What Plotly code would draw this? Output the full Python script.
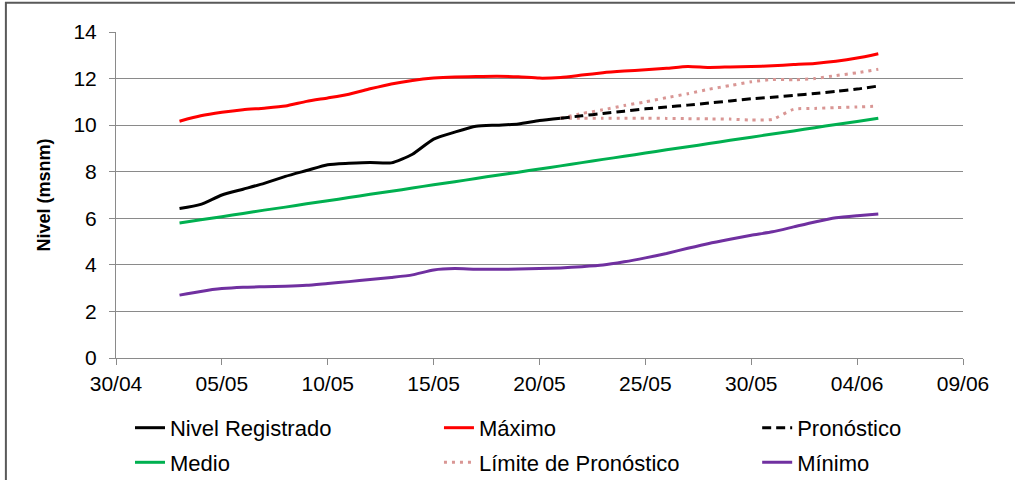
import plotly.graph_objects as go
import pandas as pd

# fechas (03/05 .. 05/06) y pronostico (21/05 .. 05/06)
fechas = pd.date_range("2016-05-03", "2016-06-05", freq="D")
fechas_obs = pd.date_range("2016-05-03", "2016-05-21", freq="D")
fechas_pron = pd.date_range("2016-05-21", "2016-06-05", freq="D")

nivel_registrado = [6.42, 6.6, 7.0, 7.25, 7.5, 7.8, 8.05, 8.3, 8.36, 8.4, 8.38, 8.75,
                    9.4, 9.7, 9.95, 10.0, 10.05, 10.2, 10.3]

maximo = [10.17, 10.4, 10.55, 10.66, 10.73, 10.82, 11.02, 11.17, 11.33, 11.56, 11.77,
          11.92, 12.02, 12.07, 12.09, 12.1, 12.08, 12.02, 12.05, 12.15, 12.25, 12.32,
          12.38, 12.44, 12.52, 12.48, 12.5, 12.52, 12.55, 12.6, 12.65, 12.74, 12.88, 13.07]

medio = [5.8, 5.94, 6.07, 6.21, 6.35, 6.48, 6.62, 6.75, 6.89, 7.03, 7.16, 7.3, 7.44,
         7.57, 7.71, 7.85, 7.98, 8.12, 8.25, 8.39, 8.53, 8.66, 8.8, 8.94, 9.07, 9.21,
         9.35, 9.48, 9.62, 9.75, 9.89, 10.03, 10.16, 10.3]

minimo = [2.7, 2.86, 2.98, 3.04, 3.06, 3.08, 3.12, 3.2, 3.28, 3.37, 3.46, 3.57, 3.78,
          3.84, 3.81, 3.81, 3.82, 3.84, 3.87, 3.92, 3.99, 4.13, 4.3, 4.49, 4.71, 4.92,
          5.1, 5.27, 5.42, 5.63, 5.84, 6.02, 6.11, 6.18]

pronostico = [10.3, 10.4, 10.5, 10.6, 10.7, 10.78, 10.86, 10.95, 11.04, 11.13, 11.2,
              11.28, 11.36, 11.45, 11.55, 11.68]

limite_sup = [10.3, 10.5, 10.66, 10.84, 11.0, 11.18, 11.35, 11.54, 11.7, 11.86, 11.96,
              11.95, 12.0, 12.13, 12.25, 12.4]

limite_inf = [10.3, 10.3, 10.3, 10.3, 10.3, 10.29, 10.28, 10.27, 10.26, 10.22, 10.25,
              10.68, 10.72, 10.75, 10.78, 10.82]

FONT = "Liberation Sans, Arial, sans-serif"
GRID = "#8a8a8a"

fig = go.Figure()

def add_line(x, y, name, color, dash="solid", legend="legend", show=True, group=None):
    fig.add_trace(go.Scatter(
        x=x, y=y, name=name, mode="lines",
        line=dict(color=color, width=3, dash=dash, shape="spline", smoothing=0.6),
        legend=legend, showlegend=show, legendgroup=group or name,
    ))

# columna 1
add_line(fechas_obs, nivel_registrado, "Nivel Registrado", "#000000", legend="legend")
add_line(fechas, medio, "Medio", "#00B050", legend="legend")
# columna 2
add_line(fechas, maximo, "Máximo", "#FF0000", legend="legend2")
add_line(fechas_pron, limite_sup, "Límite de Pronóstico", "#D99694", dash="3px,5px",
         legend="legend2", group="lim")
add_line(fechas_pron, limite_inf, "Límite inferior", "#D99694", dash="3px,5px",
         legend="legend2", show=False, group="lim")
# columna 3
add_line(fechas_pron, pronostico, "Pronóstico", "#000000", dash="9px,5px", legend="legend3")
add_line(fechas, minimo, "Mínimo", "#7030A0", legend="legend3")

leg = dict(orientation="v", yanchor="top", y=-0.15, xanchor="left",
           font=dict(family=FONT, size=22, color="#000000"),
           bgcolor="rgba(0,0,0,0)", tracegroupgap=3, traceorder="grouped")

fig.update_layout(
    width=1015, height=480,
    margin=dict(l=116, r=52, t=32, b=122, autoexpand=False),
    paper_bgcolor="white", plot_bgcolor="white",
    font=dict(family=FONT, size=21, color="#000000"),
    legend=dict(leg, x=0.0165),
    legend2=dict(leg, x=0.3813),
    legend3=dict(leg, x=0.757),
    xaxis=dict(
        type="date", range=["2016-04-30", "2016-06-09"],
        tick0="2016-04-30", dtick=5 * 86400000, tickformat="%d/%m",
        showgrid=False, showline=True, linecolor=GRID, linewidth=1,
        ticks="outside", ticklen=6, tickcolor=GRID, automargin=False,
        tickfont=dict(size=21), ticklabelstandoff=1,
    ),
    yaxis=dict(
        range=[0, 14], dtick=2, showgrid=True, gridcolor=GRID, gridwidth=1,
        zeroline=False, showline=True, linecolor=GRID, linewidth=1,
        ticks="outside", ticklen=6, tickcolor=GRID, automargin=False,
        tickfont=dict(size=21), ticklabelstandoff=8,
        title=dict(text="<b>Nivel (msnm)</b>", font=dict(size=18), standoff=18),
    ),
    # marco del grafico
    shapes=[dict(type="rect", xref="paper", yref="paper",
                 x0=-0.13, x1=1.2, y0=-0.6, y1=1.09,
                 line=dict(color="#595959", width=2), layer="below")],
)

# quitar el margen por defecto del body para que el grafico empiece en 0,0
fig.write_html("out.html", config={"displayModeBar": False},
               post_script="document.body.style.margin='0px';")
